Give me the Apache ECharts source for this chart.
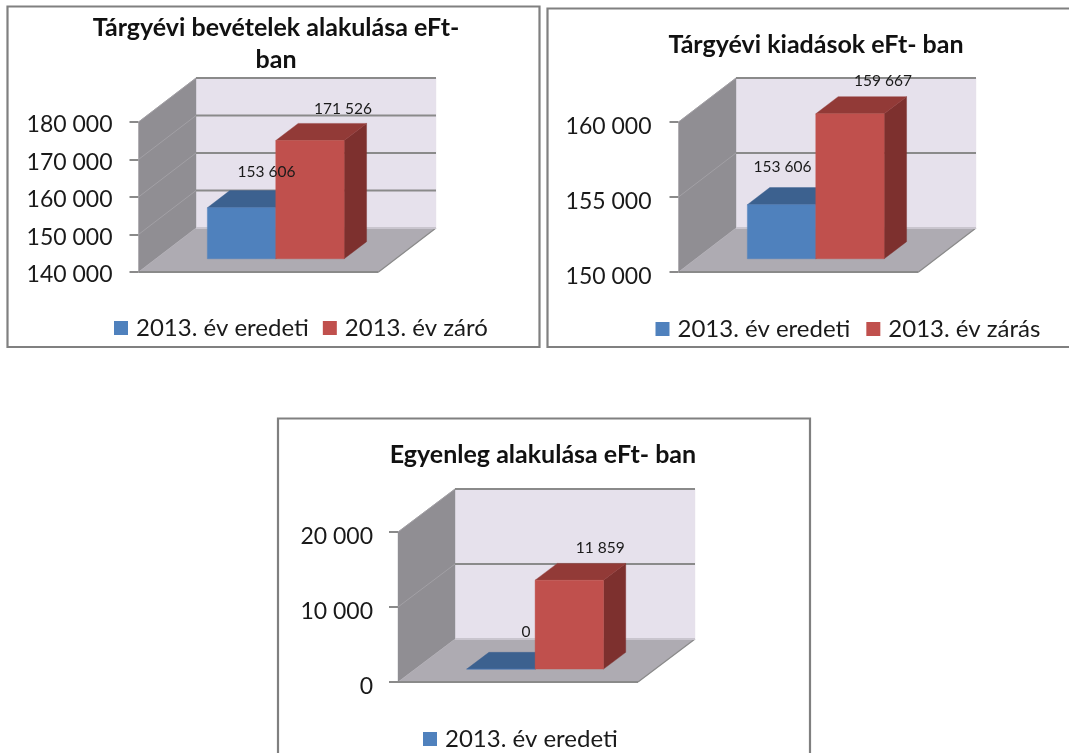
<!DOCTYPE html>
<html>
<head>
<meta charset="utf-8">
<style>html,body{margin:0;padding:0;background:#fff}#c{width:1069px;height:753px;filter:blur(0.45px)}</style>
<script src="https://cdn.jsdelivr.net/npm/echarts@6/dist/echarts.min.js"></script>
</head>
<body>
<div id="c"></div>
<script>
// ---- data ----
const categoryNames = ['2013'];
const panelTitles = ['Tárgyévi bevételek alakulása eFt-\nban', 'Tárgyévi kiadások eFt- ban', 'Egyenleg alakulása eFt- ban'];
const originalName = '2013. év eredeti';
const closingNames = ['2013. év záró', '2013. év zárás', '2013. év zárás'];
const originalValues = [153606, 153606, 0];
const closingValues = [171526, 159667, 11859];
const axisMin = [140000, 150000, 0];
const axisMax = [180000, 160000, 20000];
const axisStep = [10000, 5000, 10000];

// ---- layout and styling ----
const FONT = 'Lato, "Noto Sans", sans-serif';
const layouts = [
  { left: 138.5, top: 122, width: 240, height: 150, depth: [57.5, -44],
    frame: [7.5, 6.5, 532, 340.5], titleX: 271, titleY: 7, legendX: 114, legendY: 316, showClosing: true,
    labelNudge: [[25, -36], [33, -32]], itemGap: 14, labelGap: 26, tickDrop: 3 },
  { left: 678.5, top: 122, width: 240, height: 150, depth: [57.5, -44],
    frame: [547.5, 8.5, 540, 338.5], titleX: 811, titleY: 24, legendX: 655.5, legendY: 317, showClosing: true,
    labelNudge: [[1, -38], [33, -33]], itemGap: 16, labelGap: 27, tickDrop: 5 },
  { left: 398, top: 532, width: 240, height: 150, depth: [57, -43],
    frame: [278, 418.5, 532, 360], titleX: 538, titleY: 434, legendX: 423, legendY: 727, showClosing: false,
    labelNudge: [[25, -37], [31, -32]], itemGap: 14, labelGap: 25, tickDrop: 5 }
];
const C = {
  wall: '#e6e1ec', grid: '#8a8a8a', side: '#908e93', sideLine: '#a2a0a5', floor: '#aeabb2',
  blue: '#4f81bd', blueTop: '#3c618f', blueSide: '#355580',
  red: '#c0504d', redTop: '#923a37', redSide: '#7d302e', text: '#1a1a1a'
};
const BAR_BAND = 0.285, DEPTH_START = 0.3, DEPTH_SPAN = 0.39;

const fmt = v => String(v).replace(/\B(?=(\d{3})+$)/g, ' ');
const poly = (points, fill, extra) => Object.assign({ type: 'polygon', shape: { points },
  style: { fill, stroke: fill, lineWidth: 0.4 } }, extra || {});
const line = (points, stroke, lineWidth) => ({ type: 'polyline', shape: { points },
  style: { fill: null, stroke, lineWidth } });

function wallSeries(i) {
  const L = layouts[i], d = L.depth;
  const ticks = [];
  for (let v = axisMin[i]; v <= axisMax[i]; v += axisStep[i]) ticks.push([categoryNames[0], v]);
  return {
    type: 'custom', name: 'walls' + i, xAxisIndex: i, yAxisIndex: i, z: 1, silent: true,
    data: ticks, encode: { x: 0, y: 1 }, clip: false,
    renderItem(params, api) {
      const c = api.coord([0, api.value(1)]);
      const w = api.size([1, 0])[0];
      const x0 = c[0] - w / 2, x1 = c[0] + w / 2;
      const kids = [];
      if (api.value(1) === axisMin[i]) {
        const bottom = api.coord([0, axisMin[i]])[1], top = api.coord([0, axisMax[i]])[1];
        const bx = x0 + d[0], bx1 = x1 + d[0];
        kids.push(poly([[bx, top + d[1]], [bx1, top + d[1]], [bx1, bottom + d[1]], [bx, bottom + d[1]]], C.wall));
        kids.push(poly([[x0, top], [bx, top + d[1]], [bx, bottom + d[1]], [x0, bottom]], C.side));
        kids.push(poly([[x0, bottom], [x1, bottom], [bx1, bottom + d[1]], [bx, bottom + d[1]]], C.floor));
        kids.push(line([[x1, bottom], [bx1, bottom + d[1]]], C.grid, 1.2));
        kids.push(line([[bx, bottom + d[1]], [bx1, bottom + d[1]]], '#c9c5ce', 2));
        kids.push(line([[x0, bottom], [x1, bottom]], C.grid, 2.2));
      } else {
        const y = c[1];
        kids.push(line([[x0, y], [x0 + d[0], y + d[1]]], C.sideLine, 1));
        kids.push(line([[x0 + d[0], y + d[1]], [x1 + d[0], y + d[1]]], C.grid, 2));
      }
      return { type: 'group', children: kids };
    }
  };
}

function barSeries(i, name, value, slot, front, top, side) {
  const L = layouts[i], d = L.depth, nudge = L.labelNudge[slot];
  return {
    type: 'custom', name, xAxisIndex: i, yAxisIndex: i, z: 2, clip: false,
    itemStyle: { color: front },
    data: [[categoryNames[0], value]], encode: { x: 0, y: 1 },
    renderItem(params, api) {
      const val = api.value(1);
      const topPt = api.coord([0, val]), basePt = api.coord([0, axisMin[i]]);
      const bw = api.size([1, 0])[0] * BAR_BAND;
      const ox = d[0] * DEPTH_START, oy = d[1] * DEPTH_START;
      const dx = d[0] * DEPTH_SPAN, dy = d[1] * DEPTH_SPAN;
      const x0 = topPt[0] + (slot - 1) * bw + ox, x1 = x0 + bw;
      const yT = topPt[1] + oy, yB = basePt[1] + oy;
      return { type: 'group', children: [
        poly([[x1, yT], [x1 + dx, yT + dy], [x1 + dx, yB + dy], [x1, yB]], side),
        poly([[x0, yT], [x1, yT], [x1 + dx, yT + dy], [x0 + dx, yT + dy]], top),
        poly([[x0, yT], [x1, yT], [x1, yB], [x0, yB]], front),
        { type: 'text', z2: 100, style: { text: fmt(val), x: (x0 + x1) / 2 + nudge[0], y: yT + nudge[1],
          align: 'center', verticalAlign: 'middle', font: '15.5px ' + FONT, fill: C.text } }
      ] };
    }
  };
}

const grid = [], xAxis = [], yAxis = [], series = [], title = [], legend = [], frames = [];
layouts.forEach((L, i) => {
  grid.push({ left: L.left, top: L.top, width: L.width, height: L.height });
  xAxis.push({ type: 'category', gridIndex: i, data: categoryNames, boundaryGap: true,
    axisLine: { show: false }, axisTick: { show: false }, axisLabel: { show: false } });
  yAxis.push({ type: 'value', gridIndex: i, min: axisMin[i], max: axisMax[i], interval: axisStep[i],
    splitLine: { show: false }, axisLine: { show: false },
    axisTick: { show: true, length: 9, lineStyle: { color: C.grid, width: 2 } },
    axisLabel: { margin: L.labelGap, formatter: v => '{t|' + fmt(v) + '}',
      rich: { t: { fontFamily: FONT, fontSize: 23, color: C.text, padding: [L.tickDrop * 2, 0, 0, 0] } } } });
  series.push(wallSeries(i));
  series.push(barSeries(i, originalName, originalValues[i], 0, C.blue, C.blueTop, C.blueSide));
  series.push(barSeries(i, closingNames[i], closingValues[i], 1, C.red, C.redTop, C.redSide));
  title.push({ text: panelTitles[i], left: L.titleX, top: L.titleY, textAlign: 'center',
    textStyle: { fontFamily: FONT, fontSize: 25, fontWeight: 'bold', color: '#111', lineHeight: 32 } });
  legend.push({ left: L.legendX, top: L.legendY, orient: 'horizontal', icon: 'rect', itemWidth: 14, itemHeight: 14,
    itemGap: L.itemGap, padding: 0, selectedMode: false,
    data: L.showClosing ? [originalName, closingNames[i]] : [originalName],
    textStyle: { fontFamily: FONT, fontSize: 24, color: C.text, padding: [0, 0, 0, 3] } });
  frames.push({ type: 'rect', z: -1, shape: { x: L.frame[0], y: L.frame[1], width: L.frame[2], height: L.frame[3] },
    style: { fill: '#fff', stroke: '#808080', lineWidth: 2.2 } });
});

const chart = echarts.init(document.getElementById('c'), null, { renderer: 'canvas' });
chart.setOption({ animation: false, backgroundColor: '#fff', title, legend, grid, xAxis, yAxis, series,
  tooltip: { show: false }, graphic: { elements: frames } });
</script>
</body>
</html>
